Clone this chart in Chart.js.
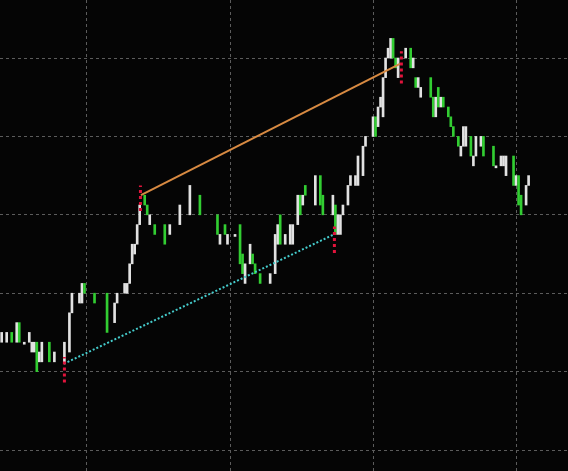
<!DOCTYPE html>
<html>
<head>
<meta charset="UTF-8">
<title>Price bars</title>
<script src="https://cdn.jsdelivr.net/npm/chart.js"></script>
<style>
  html, body { margin: 0; padding: 0; background: #050505; }
  #wrap { width: 568px; height: 471px; }
</style>
</head>
<body>
<div id="wrap"><canvas id="priceChart"></canvas></div>
<script>
// bar slots (time index), low / high of each body in price points, and direction
const barSlot = [1, 3, 5, 7, 8, 10, 12, 13, 14, 15, 16, 17, 20, 22, 26, 28, 29, 32, 33, 34,
  38, 43, 46, 47, 50, 51, 52, 53, 54, 55, 56, 58, 59, 60, 62, 66, 68, 72, 76, 80,
  87, 88, 90, 91, 94, 96, 97, 98, 100, 101, 102, 104, 108, 110, 111, 112, 114, 116, 117, 119,
  120, 121, 122, 126, 128, 129, 133, 134, 135, 136, 137, 139, 140, 142, 143, 145, 146, 149, 150, 151,
  152, 153, 154, 155, 156, 157, 158, 159, 162, 164, 165, 166, 167, 168, 172, 173, 174, 175, 176, 177,
  179, 180, 181, 183, 184, 185, 186, 188, 189, 190, 192, 193, 197, 198, 200, 201, 202, 205, 206, 207,
  208, 210, 211];
const barLow = [11, 11, 11, 11, 11, 11, 11, 10, 10, 8, 9, 9, 9, 9, 9, 10, 14, 15, 15, 16,
  15, 12, 13, 15, 16, 16, 17, 19, 20, 21, 23, 25, 24, 23, 22, 21, 22, 23, 24, 24,
  22, 21, 22, 21, 22, 19, 18, 17, 19, 19, 18, 17, 17, 18, 21, 21, 21, 21, 21, 23,
  24, 25, 26, 25, 25, 24, 24, 22, 22, 22, 24, 25, 27, 27, 27, 28, 31, 32, 32, 33,
  35, 34, 38, 40, 40, 40, 39, 38, 40, 39, 39, 37, 37, 36, 36, 34, 34, 35, 35, 35,
  34, 33, 32, 31, 30, 31, 31, 30, 29, 30, 31, 30, 29, 29, 29, 29, 28, 27, 27, 25,
  24, 25, 27];
const barHigh = [12, 12, 12, 13, 13, 11, 12, 11, 11, 11, 10, 11, 11, 10, 11, 14, 16, 16, 17, 17,
  16, 16, 15, 16, 17, 17, 19, 21, 21, 23, 25, 26, 25, 24, 23, 23, 23, 25, 27, 26,
  24, 22, 23, 22, 22, 23, 20, 19, 21, 20, 19, 18, 18, 22, 23, 24, 22, 23, 23, 26,
  26, 26, 27, 28, 28, 26, 26, 25, 24, 24, 25, 27, 28, 28, 30, 31, 32, 34, 34, 35,
  36, 38, 40, 41, 42, 42, 40, 40, 41, 41, 40, 38, 38, 37, 38, 36, 36, 37, 36, 36,
  35, 34, 33, 32, 31, 33, 33, 32, 30, 32, 32, 32, 31, 29, 30, 30, 30, 30, 28, 28,
  26, 27, 28];
const barBull = [0, 0, 1, 0, 1, 0, 0, 0, 0, 1, 0, 0, 1, 0, 0, 0, 0, 0, 0, 1,
  1, 1, 0, 0, 0, 0, 0, 0, 0, 0, 0, 1, 1, 0, 1, 1, 0, 0, 0, 1,
  1, 0, 1, 0, 0, 1, 1, 0, 0, 1, 1, 1, 0, 0, 0, 1, 0, 0, 0, 0,
  1, 0, 1, 0, 1, 1, 0, 1, 0, 0, 0, 0, 0, 0, 0, 0, 0, 0, 1, 0,
  0, 0, 0, 0, 0, 1, 1, 0, 0, 1, 0, 1, 0, 0, 1, 1, 0, 1, 0, 1,
  1, 1, 1, 1, 0, 0, 0, 1, 0, 0, 0, 1, 1, 0, 0, 0, 0, 1, 0, 1,
  1, 0, 0];

// trend lines: [slot, price] end points
const upperLine = [[56.5, 26], [159.7, 39.4]];
const lowerLine = [[25.8, 8.8], [133.4, 22]];
// red vertical markers: slot, from price, to price
const markerSlot = [26, 56.3, 133.6, 160.3];
const markerFrom = [6.9, 24.4, 20.1, 37.4];
const markerTo = [9.5, 27.0, 22.8, 40.7];

const timeGrid = [35, 92, 149, 206];
const priceGrid = [0, 8, 16, 24, 32, 40];

const bars = barSlot.map((s, i) => ({ x: s, y: [barLow[i], barHigh[i]] }));
const barColors = barBull.map(b => b ? '#32cd32' : '#e2e2e2');

const datasets = [];
markerSlot.forEach((s, i) => {
    datasets.push({
        type: 'line',
        data: [{ x: s, y: markerFrom[i] }, { x: s, y: markerTo[i] }],
        borderColor: '#e0143c',
        borderWidth: 3,
        borderDash: [3, 3],
        pointRadius: 0,
        order: 0
    });
});
datasets.push({
    type: 'line',
    data: upperLine.map(p => ({ x: p[0], y: p[1] })),
    borderColor: '#d88a42',
    borderWidth: 2,
    pointRadius: 0,
    order: 1
});
datasets.push({
    type: 'line',
    data: lowerLine.map(p => ({ x: p[0], y: p[1] })),
    borderColor: '#45cccc',
    borderWidth: 2,
    borderDash: [2, 2],
    pointRadius: 0,
    order: 1
});
datasets.push({
    type: 'bar',
    data: bars,
    backgroundColor: barColors,
    borderWidth: 0,
    barThickness: 2,
    minBarLength: 2,
    order: 2
});

new Chart(document.getElementById('priceChart'), {
    type: 'bar',
    data: { datasets: datasets },
    options: {
        responsive: true,
        maintainAspectRatio: false,
        animation: false,
        layout: { padding: 0 },
        plugins: { legend: { display: false }, tooltip: { enabled: false } },
        scales: {
            x: {
                type: 'linear',
                min: 0.33,
                max: 226.7,
                offset: false,
                grid: { color: '#5c5c5c', lineWidth: 1, drawTicks: false, offset: false },
                border: { display: false, dash: [3, 3] },
                ticks: { display: false },
                afterBuildTicks: axis => { axis.ticks = timeGrid.map(v => ({ value: v })); }
            },
            y: {
                type: 'linear',
                min: -2.14,
                max: 45.92,
                grid: { color: '#5c5c5c', lineWidth: 1, drawTicks: false },
                border: { display: false, dash: [3, 3] },
                ticks: { display: false },
                afterBuildTicks: axis => { axis.ticks = priceGrid.map(v => ({ value: v })); }
            }
        }
    },
    plugins: [{
        id: 'bg',
        beforeDraw: chart => {
            const ctx = chart.ctx;
            ctx.save();
            ctx.fillStyle = '#050505';
            ctx.fillRect(0, 0, chart.width, chart.height);
            ctx.restore();
        }
    }]
});
</script>
</body>
</html>
